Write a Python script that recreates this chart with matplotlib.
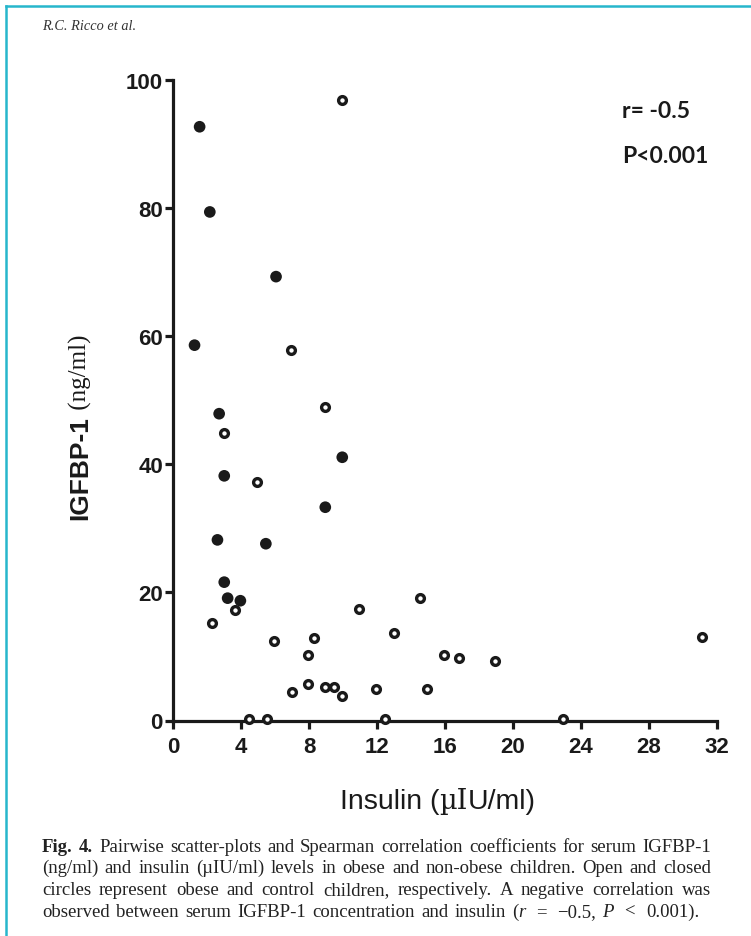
import matplotlib
matplotlib.use("Agg")
import matplotlib.pyplot as plt
from matplotlib.lines import Line2D

# ---- data ----
# control children (closed circles)
control_insulin = [1.55, 2.15, 6.05, 1.25, 2.7, 3.0, 9.95, 8.95, 2.6, 5.45, 3.0, 3.2, 3.95]
control_igfbp1 = [92.7, 79.4, 69.3, 58.6, 47.9, 38.2, 41.1, 33.3, 28.2, 27.6, 21.6, 19.1, 18.7]

# obese children (open circles)
obese_insulin = [9.95, 6.95, 8.95, 3.0, 4.95, 3.65, 2.25, 10.95, 14.5, 5.95, 8.3, 13.0,
                 7.95, 15.95, 16.85, 18.95, 31.15, 7.95, 7.0, 8.95, 9.45, 9.95, 11.95,
                 14.95, 4.45, 5.5, 12.45, 22.95]
obese_igfbp1 = [96.8, 57.9, 48.9, 44.9, 37.3, 17.2, 15.3, 17.4, 19.1, 12.4, 12.9, 13.6,
                10.3, 10.3, 9.8, 9.3, 13.0, 5.7, 4.4, 5.2, 5.2, 3.9, 4.9,
                4.9, 0.3, 0.3, 0.3, 0.3]

x_ticks = [0, 4, 8, 12, 16, 20, 24, 28, 32]
y_ticks = [0, 20, 40, 60, 80, 100]

stats_text = ["r= -0.5", "P<0.001"]

caption_lines = [
    "Fig. 4. Pairwise scatter-plots and Spearman correlation coefficients for serum IGFBP-1",
    "(ng/ml) and insulin (\u00b5IU/ml) levels in obese and non-obese children. Open and closed",
    "circles represent obese and control children, respectively. A negative correlation was",
]

W, H = 751, 937
ink = "#1a1a1a"
plt.rcParams["font.family"] = ["Liberation Sans", "DejaVu Sans"]

fig = plt.figure(figsize=(W / 100, H / 100), dpi=100)
fig.patch.set_facecolor("white")


def fx(px):
    return px / W


def fy(py):
    return 1 - py / H


# teal page frame (left and top edges)
fig.add_artist(Line2D([fx(6), fx(6)], [fy(7), 0], color="#27b6cc", lw=1.8))
fig.add_artist(Line2D([fx(6), 1], [fy(7), fy(7)], color="#27b6cc", lw=1.8))

fig.text(fx(42), fy(30), "R.C. Ricco et al.", family="Liberation Serif", style="italic",
         fontsize=10.3, color="#333333", va="baseline")

ax = fig.add_axes([fx(173.3), fy(721.5), 543.4 / W, 640.5 / H])
ax.scatter(control_insulin, control_igfbp1, s=8.4 ** 2, c=ink, edgecolors="none",
           clip_on=False, zorder=3)
ax.scatter(obese_insulin, obese_igfbp1, s=5.6 ** 2, facecolors="white", edgecolors=ink,
           linewidths=2.4, clip_on=False, zorder=3)

ax.set_xlim(0, 32)
ax.set_ylim(0, 100)
ax.set_xticks(x_ticks)
ax.set_yticks(y_ticks)
for side in ["top", "right"]:
    ax.spines[side].set_visible(False)
for side in ["left", "bottom"]:
    ax.spines[side].set_linewidth(2.3)
    ax.spines[side].set_color(ink)
ax.tick_params(direction="out", length=5.5, width=2.3, labelsize=16, colors=ink)
ax.tick_params(axis="y", pad=2)
ax.tick_params(axis="x", pad=6)
for lbl in ax.get_xticklabels() + ax.get_yticklabels():
    lbl.set_fontweight("bold")

# axis labels, built from pieces so the mixed fonts can be kept
t1 = fig.text(fx(80), fy(520), "IGFBP-1", rotation=90, fontsize=19, fontweight="bold",
              color=ink, ha="center", va="bottom")
ax.annotate(" (ng/ml)", xy=(0.5, 1), xycoords=t1, rotation=90, fontsize=18,
            family="Liberation Serif", color=ink, ha="center", va="bottom")

x1 = fig.text(fx(340), fy(809), "Insulin (", fontsize=20.5, color=ink, va="baseline")
x2 = ax.annotate("\u00b5I", xy=(1, 0), xycoords=x1, fontsize=19.5, family="DejaVu Serif",
                 color=ink, va="bottom")
ax.annotate("U/ml)", xy=(1, 0), xycoords=x2, fontsize=20.5, color=ink, va="bottom")

fig.text(fx(622), fy(118), stats_text[0], family="Lato", fontweight="bold", fontsize=16.5,
         color=ink, va="baseline")
fig.text(fx(622), fy(163), stats_text[1], family="Lato", fontweight="bold", fontsize=16.5,
         color=ink, va="baseline")

# caption, justified like the journal page
renderer = fig.canvas.get_renderer()
cap_style = dict(family="Liberation Serif", fontsize=13.5, color="#222222", va="baseline")
left, right = 42, 711
baselines = [852, 873, 895, 917]


def make_runs(words, base):
    items = []
    for word in words:
        runs = []
        for s, st in word:
            kw = dict(cap_style)
            if st == "b":
                kw["fontweight"] = "bold"
            if st == "i":
                kw["style"] = "italic"
            t = fig.text(0, fy(base), s, **kw)
            runs.append((t, t.get_window_extent(renderer).width))
        items.append(runs)
    return items


def set_positions(items, gaps):
    x = left
    for k, runs in enumerate(items):
        for t, rw in runs:
            t.set_x(fx(x))
            x += rw
        if k < len(gaps):
            x += gaps[k]


for i, line in enumerate(caption_lines):
    words = []
    for j, w in enumerate(line.split(" ")):
        st = "b" if (i == 0 and j < 2) else "r"
        words.append([(w, st)])
    items = make_runs(words, baselines[i])
    total = sum(rw for runs in items for _, rw in runs)
    gap = (right - left - total) / (len(items) - 1)
    set_positions(items, [gap] * (len(items) - 1))

# last line is not justified; the math part has wider spacing
last = [[(w, "r")] for w in "observed between serum IGFBP-1 concentration and insulin".split()]
last += [[("(", "r"), ("r", "i")], [("=", "r")], [("\u22120.5,", "r")], [("P", "i")],
         [("<", "r")], [("0.001).", "r")]]
items = make_runs(last, baselines[3])
set_positions(items, [6.3] * 7 + [11, 10, 6, 11, 11])

fig.savefig("out.png", dpi=100)
